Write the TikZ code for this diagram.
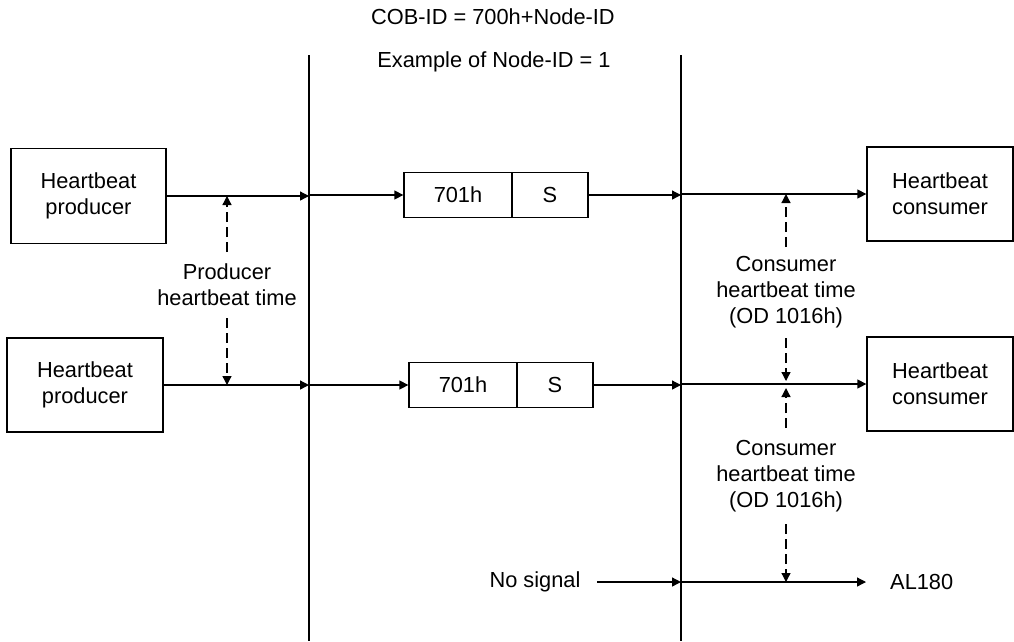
\documentclass[tikz,border=0pt]{standalone}
\usepackage{fontspec}
\setmainfont{Liberation Sans}
\usetikzlibrary{arrows.meta}
\begin{document}
\begin{tikzpicture}[x=1pt,y=-1pt,
  every node/.style={font=\fontsize{21.8}{26}\selectfont, inner sep=0pt},
  blk/.style={draw, line width=1.3pt, align=center},
  cell/.style={draw, line width=1.3pt, minimum height=45pt},
  lbl/.style={align=center},
  arr/.style={line width=1.3pt, -{Triangle[length=9pt,width=9pt]}},
  darr/.style={line width=1.3pt, dash pattern=on 10pt off 5pt, -{Triangle[length=9pt,width=9pt]}},
  vline/.style={line width=1.3pt}]
\useasboundingbox (0,0) rectangle (1014,641);

% titles
\node (cob) at (493,17) {COB-ID = 700h+Node-ID};
\node (ex) at (494,62) {Example of Node-ID = 1};

% vertical lines
\coordinate (vLt) at (309,55);
\coordinate (vLb) at (309,641);
\coordinate (vRt) at (681,55);
\coordinate (vRb) at (681,641);
\draw[vline] (vLt) -- (vLb);
\draw[vline] (vRt) -- (vRb);

% row 1
\node[blk, minimum width=155pt, minimum height=95pt] (prod1) at (88.5,196) {Heartbeat\\producer};
\node[cell, minimum width=108pt] (id1) at (458,195) {701h};
\node[cell, minimum width=76pt] (s1) at (550,195) {S};
\node[blk, minimum width=146pt, minimum height=94pt] (cons1) at (940,194) {Heartbeat\\consumer};

\draw[arr] (prod1.east) -- (prod1.east -| vLt);
\draw[arr] (id1.west -| vLt) -- (id1.west);
\draw[arr] (s1.east) -- (s1.east -| vRt);
\draw[arr] (cons1.west -| vRt) -- (cons1.west);

% row 2
\node[blk, minimum width=156pt, minimum height=94pt] (prod2) at (85,385) {Heartbeat\\producer};
\node[cell, minimum width=108pt] (id2) at (463,385) {701h};
\node[cell, minimum width=76pt] (s2) at (555,385) {S};
\node[blk, minimum width=146pt, minimum height=94pt] (cons2) at (940,384) {Heartbeat\\consumer};

\draw[arr] (prod2.east) -- (prod2.east -| vLt);
\draw[arr] (id2.west -| vLt) -- (id2.west);
\draw[arr] (s2.east) -- (s2.east -| vRt);
\draw[arr] (cons2.west -| vRt) -- (cons2.west);

% row 3
\node (nosig) at (535,582) {No signal};
\node[anchor=west] (al) at (890,582) {AL180};
\coordinate (ns0) at (597,582);
\coordinate (ns1) at (681,582);
\coordinate (ns2) at (866,582);
\draw[arr] (ns0) -- (ns1);
\draw[arr] (ns1) -- (ns2);

% producer heartbeat time
\node[lbl] (plbl) at (227,285) {Producer\\heartbeat time};
\coordinate (pu) at (227,252);
\coordinate (pd) at (227,318);
\draw[darr] (pu) -- (pu |- prod1.east);
\draw[darr] (pd) -- (pd |- prod2.east);

% consumer heartbeat time 1
\node[lbl] (clbl1) at (786,292) {Consumer\\heartbeat time\\(OD 1016h)};
\coordinate (cu1) at (786,247);
\coordinate (cd1) at (786,338);
\draw[darr] (cu1) -- (cu1 |- cons1.west);
\draw[darr] (cd1) -- ([yshift=3pt]cd1 |- cons2.west);

% consumer heartbeat time 2
\node[lbl] (clbl2) at (786,476) {Consumer\\heartbeat time\\(OD 1016h)};
\coordinate (cu2) at (786,428);
\coordinate (cd2) at (786,524);
\draw[darr] (cu2) -- ([yshift=-4pt]cu2 |- cons2.west);
\draw[darr] (cd2) -- (cd2 |- ns1);
\end{tikzpicture}
\end{document}
